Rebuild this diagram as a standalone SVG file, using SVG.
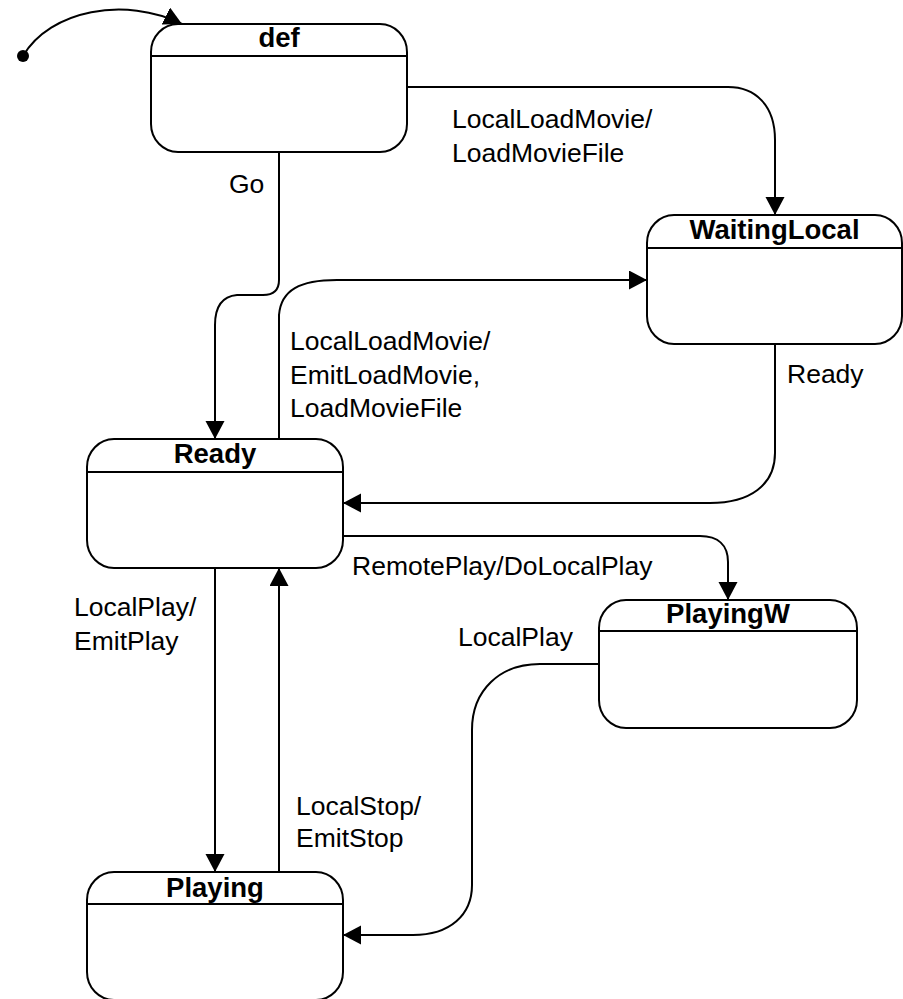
<svg xmlns="http://www.w3.org/2000/svg" width="903" height="999" viewBox="0 0 903 999">
<style>
.box{fill:#fff;stroke:#000;stroke-width:2}
.div{stroke:#000;stroke-width:2}
.title{font-family:"Liberation Sans",Arial,sans-serif;font-weight:bold;font-size:27.5px;text-anchor:middle;fill:#000}
.lbl{font-family:"Liberation Sans",Arial,sans-serif;font-size:26.5px;fill:#000}
.edge{fill:none;stroke:#000;stroke-width:2}
</style>
<defs>
<marker id="ah" markerUnits="userSpaceOnUse" markerWidth="20" markerHeight="20" refX="18" refY="9.5" orient="auto">
<path d="M0,0 L18,9.5 L0,19 Z" fill="#000"/>
</marker>
</defs>
<rect width="903" height="999" fill="#fff"/>
<g id="node-def">
<rect class="box" x="151" y="24" width="256" height="128" rx="27" ry="28"/>
<line class="div" x1="151" y1="56" x2="407" y2="56"/>
<text class="title" x="279" y="47">def</text>
</g>
<g id="node-waitinglocal">
<rect class="box" x="647" y="215" width="255" height="129" rx="27" ry="28"/>
<line class="div" x1="647" y1="248" x2="902" y2="248"/>
<text class="title" x="774.5" y="239">WaitingLocal</text>
</g>
<g id="node-ready">
<rect class="box" x="87" y="439" width="256" height="129" rx="27" ry="28"/>
<line class="div" x1="87" y1="472" x2="343" y2="472"/>
<text class="title" x="215" y="463">Ready</text>
</g>
<g id="node-playingw">
<rect class="box" x="599" y="600" width="258" height="128" rx="27" ry="28"/>
<line class="div" x1="599" y1="631" x2="857" y2="631"/>
<text class="title" x="728" y="623">PlayingW</text>
</g>
<g id="node-playing">
<rect class="box" x="87" y="872" width="256" height="128" rx="27" ry="28"/>
<line class="div" x1="87" y1="904" x2="343" y2="904"/>
<text class="title" x="215" y="897">Playing</text>
</g>
<g id="initial">
<circle cx="23" cy="56" r="6" fill="#000"/>
</g>
<g id="connectors">
<path class="edge" d="M23,56 C50,10 125,-4 182,24" marker-end="url(#ah)"/>
<path class="edge" d="M279,152 V280 Q279,295 263,295 H237 Q215,297 215,325 V439" marker-end="url(#ah)"/>
<path class="edge" d="M407,87 H728 C755,87 775,105 775,140 V215" marker-end="url(#ah)"/>
<path class="edge" d="M279,439 V315 C281,290 300,280 337,280 H647" marker-end="url(#ah)"/>
<path class="edge" d="M775,344 V453 C775,485 750,503 710,503 H343" marker-end="url(#ah)"/>
<path class="edge" d="M343,536 H700 C718,536 728,545 728,562 V600" marker-end="url(#ah)"/>
<path class="edge" d="M599,664 H540 C500,664 472,690 472,730 V885 C472,915 450,935 413,935 H343" marker-end="url(#ah)"/>
<path class="edge" d="M215,568 V872" marker-end="url(#ah)"/>
<path class="edge" d="M279,872 V568" marker-end="url(#ah)"/>
</g>
<g id="labels">
<text class="lbl" x="229" y="193">Go</text>
<text class="lbl" x="452" y="128">LocalLoadMovie/</text>
<text class="lbl" x="452" y="162">LoadMovieFile</text>
<text class="lbl" x="290" y="350">LocalLoadMovie/</text>
<text class="lbl" x="290" y="384">EmitLoadMovie,</text>
<text class="lbl" x="290" y="417">LoadMovieFile</text>
<text class="lbl" x="787" y="383">Ready</text>
<text class="lbl" x="352" y="575">RemotePlay/DoLocalPlay</text>
<text class="lbl" x="458" y="646">LocalPlay</text>
<text class="lbl" x="74" y="616">LocalPlay/</text>
<text class="lbl" x="74" y="650">EmitPlay</text>
<text class="lbl" x="296" y="815">LocalStop/</text>
<text class="lbl" x="296" y="847">EmitStop</text>
</g>
</svg>
